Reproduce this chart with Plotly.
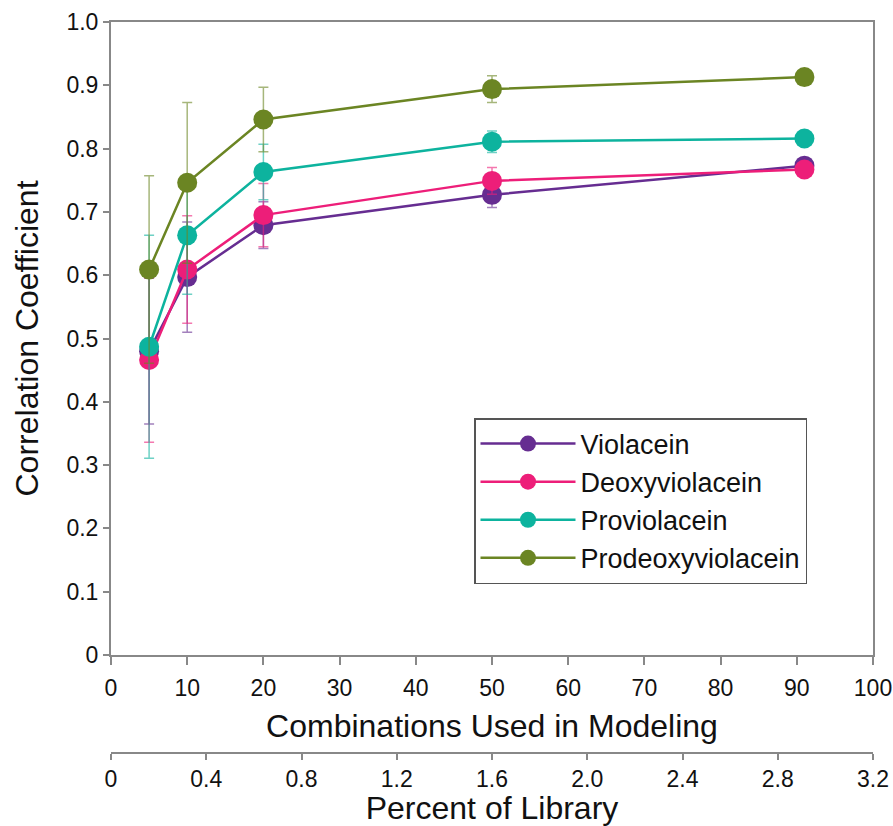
import plotly.graph_objects as go

# ---- data ----
combos = [5, 10, 20, 50, 91]
series_names = ["Violacein", "Deoxyviolacein", "Proviolacein", "Prodeoxyviolacein"]
violacein = [0.480, 0.597, 0.679, 0.727, 0.773]
deoxyviolacein = [0.466, 0.609, 0.695, 0.749, 0.767]
proviolacein = [0.487, 0.663, 0.763, 0.811, 0.816]
prodeoxyviolacein = [0.609, 0.746, 0.846, 0.894, 0.913]
violacein_err = [0.115, 0.087, 0.037, 0.020, 0.0]
deoxyviolacein_err = [0.130, 0.085, 0.050, 0.021, 0.0]
proviolacein_err = [0.176, 0.093, 0.044, 0.017, 0.0]
prodeoxyviolacein_err = [0.148, 0.127, 0.051, 0.021, 0.0]

x_ticks = [0, 10, 20, 30, 40, 50, 60, 70, 80, 90, 100]
y_ticks = [0, 0.1, 0.2, 0.3, 0.4, 0.5, 0.6, 0.7, 0.8, 0.9, 1.0]
y_tick_labels = ["0", "0.1", "0.2", "0.3", "0.4", "0.5", "0.6", "0.7", "0.8", "0.9", "1.0"]
pct_ticks = [0, 0.4, 0.8, 1.2, 1.6, 2.0, 2.4, 2.8, 3.2]
pct_tick_labels = ["0", "0.4", "0.8", "1.2", "1.6", "2.0", "2.4", "2.8", "3.2"]

colors = ["#662D91", "#ED1E79", "#0DB39E", "#6B8523"]
err_colors = ["rgba(102,45,145,0.6)", "rgba(237,30,121,0.6)", "rgba(13,179,158,0.6)", "rgba(107,133,35,0.6)"]

values = [violacein, deoxyviolacein, proviolacein, prodeoxyviolacein]
errors = [violacein_err, deoxyviolacein_err, proviolacein_err, prodeoxyviolacein_err]

FONT = "Liberation Sans, Arial, Helvetica, sans-serif"
TICK_SIZE = 23
TITLE_SIZE = 32

fig = go.Figure()
for name, vals, errs, c, ec in zip(series_names, values, errors, colors, err_colors):
    fig.add_trace(go.Scatter(
        x=combos, y=vals, name=name, mode="lines+markers", legendgroup=name,
        line=dict(color=c, width=2.5),
        marker=dict(color=c, size=20, line=dict(width=0)),
        error_y=dict(type="data", array=errs, visible=True, color=ec, thickness=1.5, width=5),
    ))

# carrier trace for the secondary (percent) axis
fig.add_trace(go.Scatter(
    x=pct_ticks, y=[None] * len(pct_ticks), xaxis="x2", yaxis="y",
    mode="markers", showlegend=False, hoverinfo="skip",
))

axis_line = "#888888"
W, H = 893, 826
ml, mr, mt, mb = 111, 20, 22, 73
plot_w = W - ml - mr
plot_h = H - mt - mb
y0_px = 655
ydom0 = (H - mb - y0_px) / plot_h

fig.update_layout(
    width=W, height=H,
    margin=dict(l=ml, r=mr, t=mt, b=mb, autoexpand=False),
    paper_bgcolor="white", plot_bgcolor="white",
    font=dict(family=FONT, color="#111111", size=TICK_SIZE),
    showlegend=True,
    legend=dict(
        x=(474 - ml) / plot_w, y=(H - mb - 418) / plot_h,
        xanchor="left", yanchor="top",
        bgcolor="white", bordercolor="#555555", borderwidth=1.5,
        font=dict(size=27, family=FONT, color="#111111"),
        tracegroupgap=3, itemwidth=95, traceorder="normal",
    ),
    xaxis=dict(
        range=[0, 100], tickvals=x_ticks, ticktext=[str(t) for t in x_ticks],
        showgrid=False, zeroline=False, automargin=False,
        showline=True, mirror=True, linecolor=axis_line, linewidth=2,
        ticks="outside", ticklen=8, tickwidth=1.5, tickcolor=axis_line,
        tickfont=dict(size=TICK_SIZE, family=FONT), ticklabelstandoff=3,
        title=dict(text="Combinations Used in Modeling", font=dict(size=TITLE_SIZE, family=FONT), standoff=15),
        anchor="y",
    ),
    xaxis2=dict(
        range=[0, 3.2], tickvals=pct_ticks, ticktext=pct_tick_labels,
        overlaying="x", anchor="free", position=0, side="bottom",
        showgrid=False, zeroline=False, automargin=False,
        showline=True, linecolor=axis_line, linewidth=2,
        ticks="outside", ticklen=6, tickwidth=1.5, tickcolor=axis_line,
        tickfont=dict(size=TICK_SIZE, family=FONT), ticklabelstandoff=-1,
        title=dict(text="Percent of Library", font=dict(size=TITLE_SIZE, family=FONT), standoff=0),
    ),
    yaxis=dict(
        range=[0, 1.0], domain=[ydom0, 1], tickvals=y_ticks, ticktext=y_tick_labels,
        showgrid=False, zeroline=False, automargin=False,
        showline=True, mirror=True, linecolor=axis_line, linewidth=2,
        ticks="outside", ticklen=6, tickwidth=1.5, tickcolor=axis_line,
        tickfont=dict(size=TICK_SIZE, family=FONT),
        title=dict(text="Correlation Coefficient", font=dict(size=TITLE_SIZE, family=FONT), standoff=18),
    ),
)

fig.write_html(
    "out.html",
    config={"displayModeBar": False},
    post_script="document.body.style.margin='0';document.body.style.overflow='hidden';",
)
